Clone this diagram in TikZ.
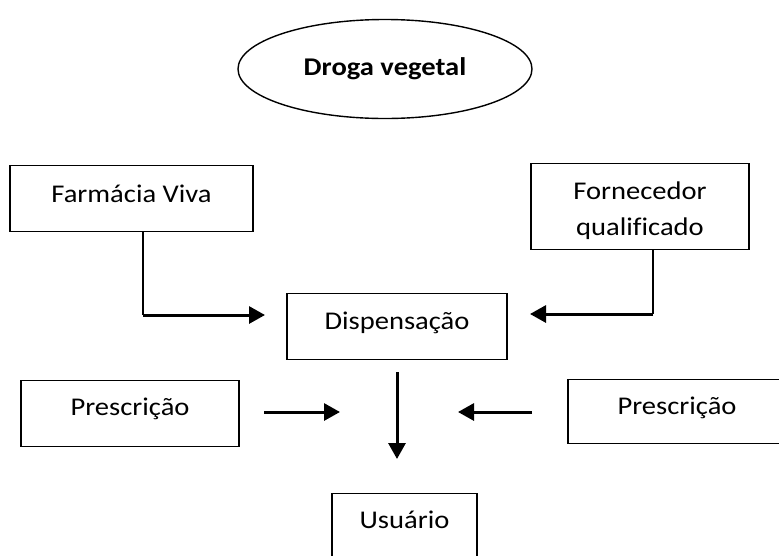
\documentclass[tikz,border=0pt]{standalone}
\usepackage{fontspec}
\setmainfont[FakeStretch=1.12,Ligatures=NoCommon]{Carlito}
\usetikzlibrary{arrows.meta,shapes.geometric}
\begin{document}
\begin{tikzpicture}[x=1pt,y=-1pt,
  box/.style={draw, line width=1.4pt, rectangle, inner sep=0pt, anchor=north,
    font=\fontsize{25.5}{34}\selectfont},
  oval/.style={draw, ellipse, line width=1.4pt, inner sep=0pt,
    minimum width=294pt, minimum height=99pt, font=\fontsize{25.5}{34}\selectfont\bfseries},
  link/.style={line width=1.8pt},
  arr/.style={line width=3pt, -{Triangle[length=16pt,width=17pt]}},
]
\useasboundingbox (0,0) rectangle (779,555);
\clip (0,0) rectangle (779,555);

\node[oval] (droga) at (385,69) {Droga vegetal};

\node[box, minimum width=243pt, text height=37pt, text depth=29pt] (farm) at (131.5,165) {Farmácia Viva};
\node[box, minimum width=218pt, text height=36pt, text depth=50pt] (forn) at (640,163)
  {\vtop{\baselineskip=36pt\halign{\hfil#\hfil\cr Fornecedor\cr qualificado\cr}}};
\node[box, minimum width=220pt, text height=36pt, text depth=30pt] (disp) at (397,293) {Dispensação};
\node[box, minimum width=218pt, text height=35pt, text depth=31pt] (presL) at (130,380) {Prescrição};
\node[box, minimum width=218pt, text height=35pt, text depth=29pt] (presR) at (677,379) {Prescrição};
\node[box, minimum width=145pt, text height=35pt, text depth=40pt] (usu) at (404.5,493) {Usuário};

\coordinate (fa) at (143,315);
\coordinate (faEnd) at (265,315);
\coordinate (fo) at (653,314);
\coordinate (foEnd) at (530,314);
\coordinate (dTop) at (397,372);
\coordinate (dEnd) at (397,459);
\coordinate (pL) at (264,412);
\coordinate (pLEnd) at (340,412);
\coordinate (pR) at (532,412);
\coordinate (pREnd) at (458,412);

\draw[link] (farm.south -| fa) -- (fa);
\draw[arr] (fa) -- (faEnd);
\draw[link] (forn.south -| fo) -- (fo);
\draw[arr] (fo) -- (foEnd);
\draw[arr] (dTop) -- (dEnd);
\draw[arr] (pL) -- (pLEnd);
\draw[arr] (pR) -- (pREnd);
\end{tikzpicture}
\end{document}
